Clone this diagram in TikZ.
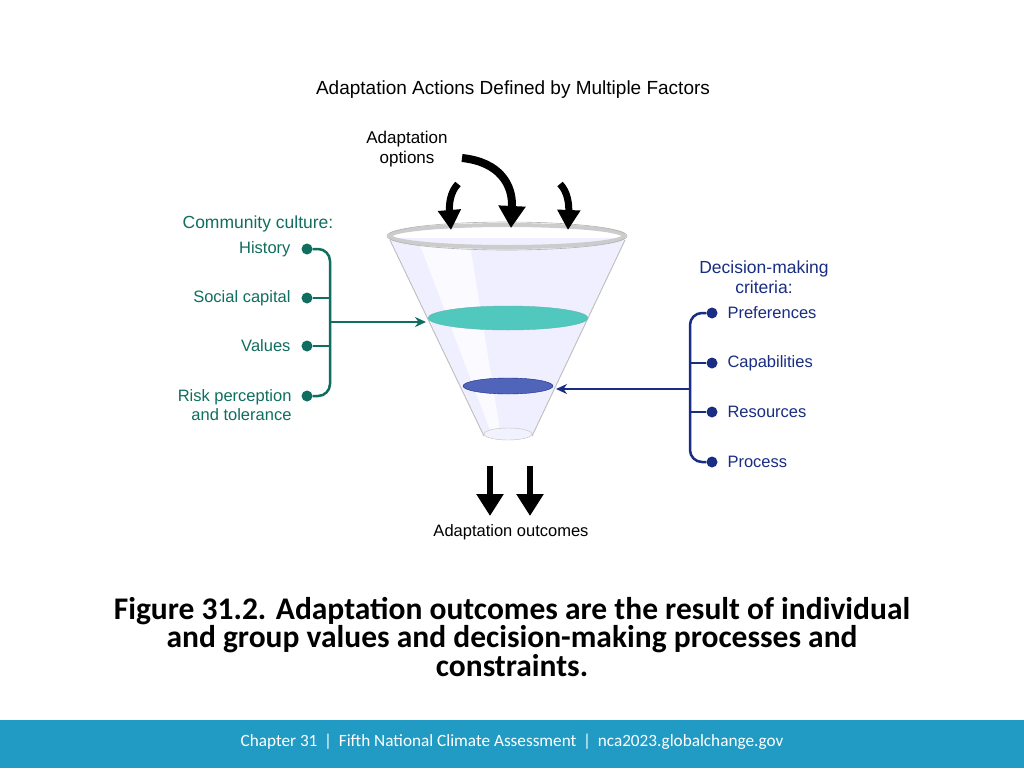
\documentclass[tikz,border=0pt]{standalone}
\usepackage{fontspec}
\setmainfont{Liberation Sans}
\newfontfamily\carl{Carlito}
\usetikzlibrary{arrows.meta}
\definecolor{teal1}{RGB}{16,110,96}
\definecolor{navy1}{RGB}{25,45,130}
\definecolor{foot}{RGB}{33,155,196}
\definecolor{tdisk}{RGB}{80,200,190}
\definecolor{bdisk}{RGB}{80,100,185}
\begin{document}
\begin{tikzpicture}[x=1pt,y=-1pt,
 lbl/.style={font=\fontsize{16.5}{19}\selectfont,align=center},
 tdot/.style={circle,fill=teal1,inner sep=0pt,minimum size=11pt},
 ndot/.style={circle,fill=navy1,inner sep=0pt,minimum size=11pt},
 blk/.style={-{Triangle[width=26pt,length=22pt]},line width=8pt,black}]
\useasboundingbox (0,0) rectangle (1024,768);
\fill[white] (0,0) rectangle (1024,768);
\node[font=\fontsize{19}{22}\selectfont] (title) at (513,90) {Adaptation Actions Defined by Multiple Factors};
\node[lbl,font=\fontsize{17}{20}\selectfont] (opt) at (407,149) {Adaptation\\options};
% funnel
\fill[blue!8,opacity=0.8] (390,238) -- (484,434) -- (532,434) -- (625,238) -- cycle;
\fill[white,opacity=0.7] (420,245) -- (490,430) -- (500,430) -- (470,245) -- cycle;
\draw[gray!50,line width=1pt] (390,240) -- (484,436) (625,240) -- (532,436);
\draw[gray!40,line width=4pt] (507,236) ellipse [x radius=117,y radius=11];
\draw[gray!60,line width=0.6pt] (507,236) ellipse [x radius=120,y radius=14];
\draw[gray!50,fill=blue!5] (508,434) ellipse [x radius=24,y radius=6];
\fill[tdisk,draw=teal!60] (508,318) ellipse [x radius=80,y radius=12];
\fill[bdisk,draw=navy1] (508,386) ellipse [x radius=45,y radius=8];
\coordinate (tin) at (426,322);
\coordinate (nin) at (556,389);
% curved arrows
\coordinate (a1s) at (462,158); \coordinate (a1e) at (511,228);
\draw[blk] (a1s) .. controls (500,162) and (513,185) .. (a1e);
\coordinate (a2s) at (458,184); \coordinate (a2e) at (451,230);
\draw[blk,line width=7pt,-{Triangle[width=22pt,length=20pt]}] (a2s) .. controls (450,192) and (449,205) .. (a2e);
\coordinate (a3s) at (560,184); \coordinate (a3e) at (568,230);
\draw[blk,line width=7pt,-{Triangle[width=22pt,length=20pt]}] (a3s) .. controls (568,192) and (569,205) .. (a3e);
\coordinate (d1s) at (490,466); \coordinate (d1e) at (490,516);
\coordinate (d2s) at (530,466); \coordinate (d2e) at (530,516);
\draw[blk,line width=6pt] (d1s) -- (d1e);
\draw[blk,line width=6pt] (d2s) -- (d2e);
\node[lbl] (out) at (511,532) {Adaptation outcomes};
% left
\node[lbl,text=teal1,font=\fontsize{17.5}{20}\selectfont] (cc) at (258,224) {Community culture:};
\node[tdot] (l1) at (307,249) {}; \node[lbl,text=teal1,anchor=east] (t1) at (294,249) {History};
\node[tdot] (l2) at (307,298) {}; \node[lbl,text=teal1,anchor=east] (t2) at (294,298) {Social capital};
\node[tdot] (l3) at (307,346) {}; \node[lbl,text=teal1,anchor=east] (t3) at (294,346) {Values};
\node[tdot] (l4) at (307,396) {}; \node[lbl,text=teal1,align=right,anchor=east] (t4) at (295,405) {Risk perception\\and tolerance};
\draw[teal1,line width=2.5pt,rounded corners=12pt] (l1) -- (330,249) -- (330,396) -- (l4);
\draw[teal1,line width=2.5pt] (l2) -- (330,298) (l3) -- (330,346);
\draw[teal1,line width=2.5pt,-{Stealth[length=11pt,width=10pt]}] (330,322) -- (tin);
% right
\node[lbl,text=navy1,font=\fontsize{17.5}{20}\selectfont] (dm) at (764,277) {Decision-making\\criteria:};
\node[ndot] (r1) at (712,313) {}; \node[lbl,text=navy1,anchor=west] (s1) at (724,313) {Preferences};
\node[ndot] (r2) at (712,363) {}; \node[lbl,text=navy1,anchor=west] (s2) at (724,363) {Capabilities};
\node[ndot] (r3) at (712,412) {}; \node[lbl,text=navy1,anchor=west] (s3) at (724,412) {Resources};
\node[ndot] (r4) at (712,462) {}; \node[lbl,text=navy1,anchor=west] (s4) at (724,462) {Process};
\draw[navy1,line width=2.5pt,rounded corners=12pt] (r1) -- (690,313) -- (690,462) -- (r4);
\draw[navy1,line width=2.5pt] (r2) -- (690,363) (r3) -- (690,412);
\draw[navy1,line width=2.5pt,-{Stealth[length=11pt,width=10pt]}] (690,389) -- (nin);
% caption
\node[font=\carl\bfseries\fontsize{31.5}{28.5}\selectfont,align=center] (cap) at (512,637) {Figure 31.2. Adaptation outcomes are the result of individual\\and group values and decision-making processes and\\constraints.};
\fill[foot] (0,720) rectangle (1024,768);
\node[font=\carl\fontsize{17.2}{19}\selectfont,text=white] (ft) at (512,742) {Chapter 31 \,|\, Fifth National Climate Assessment \,|\, nca2023.globalchange.gov};
\end{tikzpicture}
\end{document}
